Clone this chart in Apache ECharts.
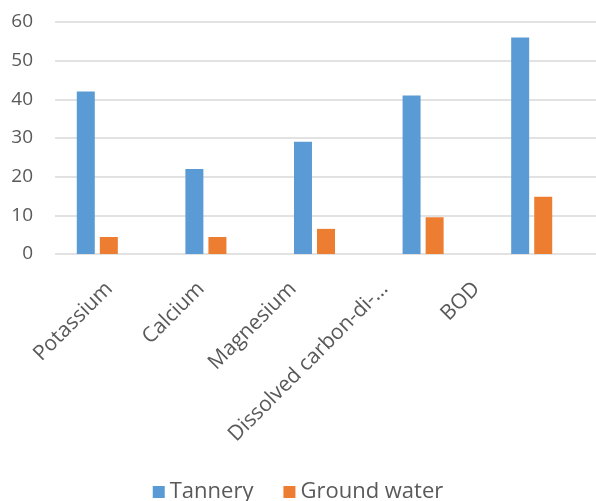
<!DOCTYPE html>
<html>
<head>
<meta charset="utf-8">
<script src="https://cdn.jsdelivr.net/npm/echarts@6/dist/echarts.min.js"></script>
<style>
  html, body { margin: 0; padding: 0; background: #fff; }
  #chart { width: 596px; height: 501px; }
</style>
</head>
<body>
<div id="chart"></div>
<script>
var categories = ['Potassium', 'Calcium', 'Magnesium', 'Dissolved carbon-di-...', 'BOD'];
var tannery = [42, 22, 29, 41, 56];
var groundWater = [4.4, 4.4, 6.5, 9.5, 14.8];
var yTicks = { min: 0, max: 60, interval: 10 };

var chart = echarts.init(document.getElementById('chart'), null, {renderer: 'canvas'});

var textColor = '#595959';
var fontFam = '"Open Sans", "Liberation Sans", sans-serif';

chart.setOption({
  animation: false,
  color: ['#5B9BD5', '#ED7D31'],
  grid: [
    // bars
    { left: 43, right: 10, top: 22, bottom: 247, containLabel: false },
    // the category labels in the picture sit on a narrower spacing than the bars
    { left: 56, right: 81, top: 22, bottom: 247, containLabel: false },
    // gridlines + value labels
    { left: 55, right: 0, top: 22, bottom: 247, containLabel: false }
  ],
  legend: {
    bottom: -7,
    left: 'center',
    itemWidth: 12,
    itemHeight: 12,
    itemGap: 30,
    icon: 'rect',
    textStyle: { color: textColor, fontSize: 22, fontFamily: fontFam },
    data: ['Tannery', 'Ground water']
  },
  xAxis: [
    {
      type: 'category',
      gridIndex: 0,
      data: categories,
      axisTick: { show: false },
      axisLine: { show: false },
      axisLabel: { show: false }
    },
    {
      type: 'category',
      gridIndex: 1,
      data: categories,
      axisTick: { show: false },
      axisLine: { show: false },
      axisLabel: {
        rotate: 45,
        margin: 24,
        interval: 0,
        verticalAlign: 'top',
        color: textColor,
        fontSize: 21,
        fontFamily: fontFam
      }
    },
    {
      type: 'category',
      gridIndex: 2,
      data: categories,
      show: false
    }
  ],
  yAxis: [
    {
      type: 'value',
      gridIndex: 0,
      min: yTicks.min,
      max: yTicks.max,
      interval: yTicks.interval,
      show: false,
      splitLine: { show: false }
    },
    {
      type: 'value',
      gridIndex: 1,
      min: yTicks.min,
      max: yTicks.max,
      show: false,
      splitLine: { show: false }
    },
    {
      type: 'value',
      gridIndex: 2,
      min: yTicks.min,
      max: yTicks.max,
      interval: yTicks.interval,
      axisLine: { show: false },
      axisTick: { show: false },
      splitLine: { lineStyle: { color: '#d9d9d9', width: 1.5 } },
      axisLabel: { margin: 22, color: textColor, fontSize: 19, fontFamily: fontFam }
    }
  ],
  series: [
    { name: 'Tannery', type: 'bar', data: tannery, barWidth: 18, barGap: '28%', z: 3 },
    { name: 'Ground water', type: 'bar', data: groundWater, barWidth: 18, barGap: '28%', z: 3 }
  ]
});
</script>
</body>
</html>
